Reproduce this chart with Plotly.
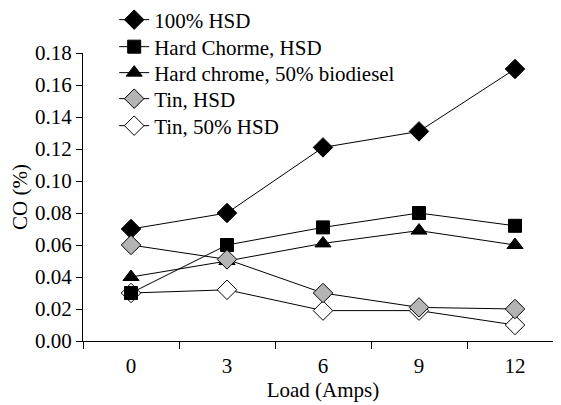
import plotly.graph_objects as go

loads = ["0", "3", "6", "9", "12"]
hsd100 = [0.070, 0.080, 0.121, 0.131, 0.170]
hard_chrome_hsd = [0.030, 0.060, 0.071, 0.080, 0.072]
hard_chrome_bio = [0.040, 0.050, 0.061, 0.069, 0.060]
tin_hsd = [0.060, 0.051, 0.030, 0.021, 0.020]
tin_50 = [0.030, 0.032, 0.019, 0.019, 0.010]

series = [
    ("100% HSD", hsd100, "diamond", "black", 15),
    ("Hard Chorme, HSD", hard_chrome_hsd, "square", "black", 13),
    ("Hard chrome, 50% biodiesel", hard_chrome_bio, "triangle-up", "black", 14),
    ("Tin, HSD", tin_hsd, "diamond", "#b4b4b4", 15),
    ("Tin, 50% HSD", tin_50, "diamond", "white", 15),
]

FONT = "Liberation Serif"
FS = 21
legend_rows = [1.1146, 1.0208, 0.9306, 0.8403, 0.7465]
draw_order = [4, 0, 1, 2, 3]

fig = go.Figure()
legend_layout = {}
for i in draw_order:
    name, vals, sym, fill, size = series[i]
    lg = "legend" if i == 0 else f"legend{i + 1}"
    fig.add_trace(go.Scatter(
        x=loads, y=vals, name=name, mode="lines+markers",
        line=dict(color="black", width=1),
        marker=dict(symbol=sym, size=size, color=fill,
                    line=dict(color="black", width=1)),
        legend=lg,
    ))
    legend_layout[lg] = dict(
        x=0.065, y=legend_rows[i], xanchor="left", yanchor="middle",
        bgcolor="rgba(0,0,0,0)",
        font=dict(family=FONT, size=FS, color="black"),
        itemsizing="trace",
    )

fig.update_layout(
    width=561, height=405,
    margin=dict(l=75, r=6, t=45, b=72, autoexpand=False),
    paper_bgcolor="white", plot_bgcolor="white",
    font=dict(family=FONT, size=FS, color="black"),
    showlegend=True,
    **legend_layout,
)
fig.update_xaxes(
    type="category", range=[-0.5, 4.5],
    showline=True, linecolor="black", linewidth=1,
    ticks="outside", tickson="boundaries", ticklen=7, tickcolor="black",
    ticklabelstandoff=6,
    showgrid=False, zeroline=False,
    title=dict(text="Load (Amps)", standoff=3,
               font=dict(family=FONT, size=FS, color="black")),
    tickfont=dict(family=FONT, size=FS, color="black"),
)
fig.update_yaxes(
    range=[0, 0.18], dtick=0.02, tickformat=".2f",
    showline=True, linecolor="black", linewidth=1,
    ticks="outside", ticklen=6, tickcolor="black",
    showgrid=False, zeroline=False,
    title=dict(text="CO (%)", standoff=4,
               font=dict(family=FONT, size=FS, color="black")),
    tickfont=dict(family=FONT, size=FS, color="black"),
)

fig.write_html("out.html")
